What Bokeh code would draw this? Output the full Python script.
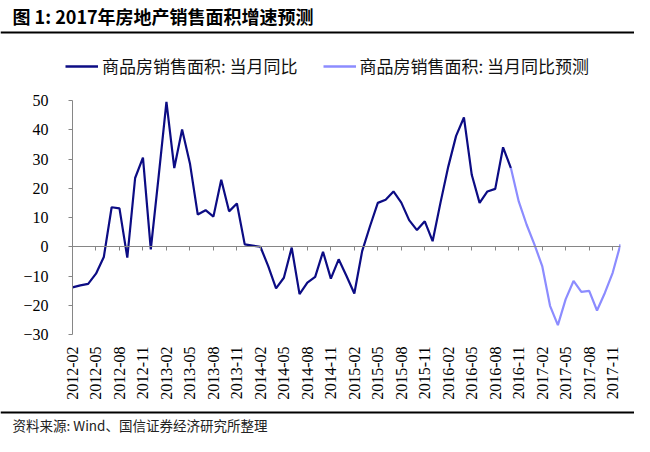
import math
import pandas as pd
from bokeh.plotting import figure
from bokeh.layouts import column
from bokeh.models import (Range1d, LinearAxis, FixedTicker, Span, Legend, LegendItem)
from bokeh.core.properties import value
from bokeh.embed import file_html
from bokeh.resources import INLINE

title_text = "图 1: 2017年房地产销售面积增速预测"
source_text = "资料来源: Wind、国信证券经济研究所整理"
series_names = ["商品房销售面积: 当月同比", "商品房销售面积: 当月同比预测"]

# monthly categories 2012-02 .. 2017-12
months = [str(m) for m in pd.period_range("2012-02", "2017-12", freq="M")]

# 商品房销售面积: 当月同比 (2012-02 .. 2016-10)
actual = [-13.9, -13.2, -12.7, -9.2, -3.5, 13.5, 13.1, -3.7, 23.5, 30.5, -0.9, 24.0,
          49.5, 26.9, 40.1, 28.5, 11.0, 12.5, 10.3, 22.9, 12.1, 14.8, 0.8, 0.4,
          0.0, -6.6, -14.2, -10.6, -0.3, -16.2, -12.3, -10.3, -1.7, -10.9, -4.3, -10.0,
          -16.0, -1.5, 7.0, 15.0, 16.1, 18.9, 15.1, 9.1, 5.7, 8.7, 1.9, 15.0,
          27.4, 37.9, 44.2, 24.6, 15.0, 18.9, 19.8, 34.0, 26.9]
# 商品房销售面积: 当月同比预测 (2016-10 .. 2017-12)
forecast = [26.9, 15.5, 7.6, 0.8, -6.6, -20.2, -26.8, -17.9, -11.7, -15.4, -15.1,
            -21.8, -15.8, -8.9, 0.8]

tick_labels = ["2012-02", "2012-05", "2012-08", "2012-11", "2013-02", "2013-05",
               "2013-08", "2013-11", "2014-02", "2014-05", "2014-08", "2014-11",
               "2015-02", "2015-05", "2015-08", "2015-11", "2016-02", "2016-05",
               "2016-08", "2016-11", "2017-02", "2017-05", "2017-08", "2017-11"]
y_ticks = [-30, -20, -10, 0, 10, 20, 30, 40, 50]
y_tick_labels = ["\u221230", "\u221220", "\u221210", "0", "10", "20", "30", "40", "50"]

DARK = "#0C0C84"
LIGHT = "#8C8CFF"
GREY = "#868686"
W = 634
H_HEAD, H_MAIN, H_FOOT = 80, 322, 34
CJK = "Noto Sans CJK SC"
NAN = float("nan")

x_actual = [months.index(m) for m in months[:len(actual)]]
x_forecast = [months.index(m) for m in months[len(actual) - 1:len(actual) - 1 + len(forecast)]]
tick_pos = [months.index(t) for t in tick_labels]


def blank(height):
    f = figure(width=W, height=height, output_backend="svg", toolbar_location=None,
               x_range=Range1d(0, W), y_range=Range1d(height, 0),
               x_axis_location=None, y_axis_location=None, min_border=0,
               frame_align=False)
    f.outline_line_color = None
    f.grid.visible = False
    return f


# ---- header: title, rule, legend ----
head = blank(H_HEAD)
head.text(x=[12], y=[15], text=[title_text], text_font=value(CJK), text_font_size="18px",
          text_font_style="bold", text_baseline="middle", text_align="left", text_color="black")
head.add_layout(Span(location=32, dimension="width", line_color="black", line_width=2))
k1 = head.line(x=[NAN], y=[NAN], line_color=DARK, line_width=2.5)
k2 = head.line(x=[NAN], y=[NAN], line_color=LIGHT, line_width=2.5)
legend = Legend(items=[LegendItem(label=series_names[0], renderers=[k1]),
                       LegendItem(label=series_names[1], renderers=[k2])],
                orientation="horizontal", location=(65, 2),
                border_line_color=None, background_fill_alpha=0,
                label_text_font=CJK, label_text_font_size="17px",
                label_text_color="#111111",
                glyph_width=33, glyph_height=20, label_height=20, label_standoff=4,
                spacing=25, padding=0, margin=0)
head.add_layout(legend)

# ---- main chart ----
p = figure(width=W, height=H_MAIN, output_backend="svg", toolbar_location=None,
           x_range=Range1d(0, len(months) - 1), y_range=Range1d(y_ticks[0], y_ticks[-1]),
           x_axis_location=None, y_axis_location=None, frame_align=False,
           min_border_left=72, min_border_right=14, min_border_top=20, min_border_bottom=67)
p.grid.visible = False
p.outline_line_color = None

yaxis = LinearAxis(ticker=FixedTicker(ticks=y_ticks, minor_ticks=[]),
                   major_label_overrides={t: l for t, l in zip(y_ticks, y_tick_labels)},
                   axis_line_color=GREY, major_tick_line_color=GREY,
                   minor_tick_line_color=None, major_tick_in=0, major_tick_out=4,
                   major_label_standoff=20, major_label_text_font="Liberation Serif",
                   major_label_text_font_size="16px", major_label_text_color="black")
p.add_layout(yaxis, "left")

xtick_axis = LinearAxis(ticker=FixedTicker(ticks=tick_pos, minor_ticks=[]), fixed_location=0,
                        major_label_overrides={t: "" for t in tick_pos},
                        axis_line_color=GREY, major_tick_line_color=GREY,
                        minor_tick_line_color=None, major_tick_in=4, major_tick_out=0,
                        major_label_standoff=0)
p.add_layout(xtick_axis, "above")

xlabel_axis = LinearAxis(ticker=FixedTicker(ticks=tick_pos, minor_ticks=[]),
                         major_label_overrides={t: l for t, l in zip(tick_pos, tick_labels)},
                         major_label_orientation=math.pi / 2,
                         axis_line_color=None, major_tick_line_color=None,
                         minor_tick_line_color=None, major_tick_in=0, major_tick_out=0,
                         major_label_standoff=12, major_label_text_font="Liberation Serif",
                         major_label_text_font_size="16px", major_label_text_color="black")
p.add_layout(xlabel_axis, "below")

p.line(x_actual, actual, line_color=DARK, line_width=2.2)
p.line(x_forecast, forecast, line_color=LIGHT, line_width=2.2)

# ---- footer: rule and source ----
foot = blank(H_FOOT)
foot.add_layout(Span(location=10, dimension="width", line_color="black", line_width=2))
foot.text(x=[12], y=[22], text=[source_text], text_font=value(CJK), text_font_size="13.5px",
          text_baseline="middle", text_align="left", text_color="#222222")

layout = column(head, p, foot, spacing=0)
open("out.html", "w").write(file_html(layout, INLINE))
